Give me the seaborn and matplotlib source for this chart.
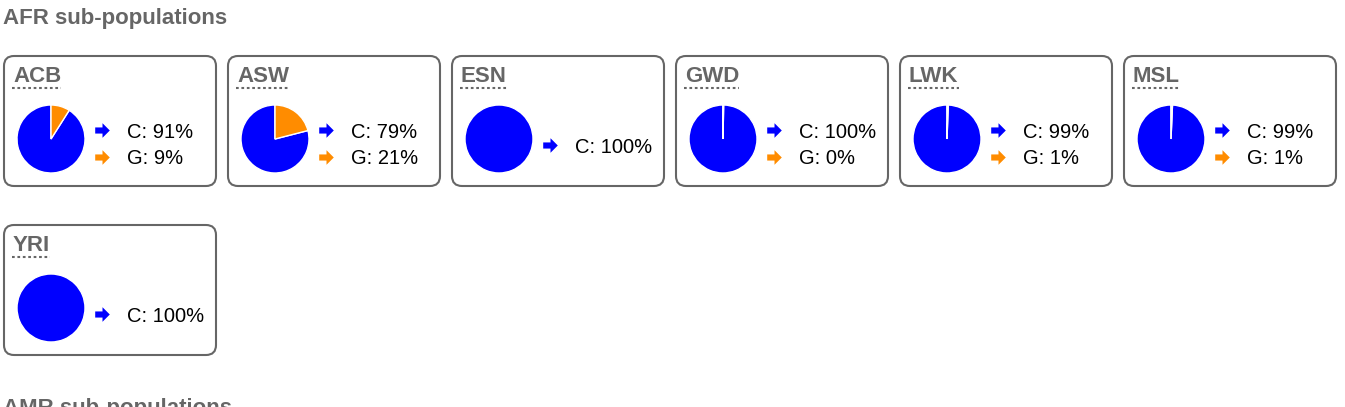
import matplotlib
matplotlib.use("Agg")
import matplotlib.pyplot as plt
from matplotlib.patches import FancyBboxPatch
from matplotlib.path import Path
import seaborn as sns

# data
populations = ["ACB", "ASW", "ESN", "GWD", "LWK", "MSL", "YRI"]
c_pct = [91.0, 79.0, 100.0, 99.7, 99.4, 99.3, 100.0]
g_pct = [9.0, 21.0, None, 0.3, 0.6, 0.7, None]
alleles = ["C", "G"]
section_title = "AFR sub-populations"
next_title = "AMR sub-populations"

sns.set_theme(style="white")
plt.rcParams['font.family'] = ['Liberation Sans', 'DejaVu Sans']
colors = sns.color_palette(["#0000ff", "#ff8c00"])
gray = "#666666"

W, H = 1345, 407
fig = plt.figure(figsize=(W / 100, H / 100), dpi=100)
fig.patch.set_facecolor("white")
ax = fig.add_axes([0, 0, 1, 1])
ax.set_xlim(0, W)
ax.set_ylim(H, 0)
ax.axis("off")

# arrow marker shape
arrow = Path([(-1, -0.42), (0.0, -0.42), (0.0, -1), (1, 0), (0.0, 1),
              (0.0, 0.42), (-1, 0.42), (-1, -0.42)],
             [Path.MOVETO] + [Path.LINETO] * 6 + [Path.CLOSEPOLY])

ax.text(3, 24, section_title, fontsize=16, fontweight="bold", color=gray, va="baseline")
ax.text(3, 414, next_title, fontsize=16, fontweight="bold", color=gray, va="baseline",
        clip_on=False)

labels = []
for i, pop in enumerate(populations):
    bx = 4 + (i % 6) * 224
    by = 56 + (i // 6) * 169
    ax.add_patch(FancyBboxPatch((bx, by), 212, 130,
                                boxstyle="round,pad=0,rounding_size=10",
                                fc="white", ec=gray, lw=1.5))
    lab = ax.text(bx + 9, by + 26, pop, fontsize=16, fontweight="bold",
                  color=gray, va="baseline")
    labels.append((lab, by))

    # pie
    cx, cy, r = bx + 47, by + 83, 34
    pax = fig.add_axes([(cx - r) / W, 1 - (cy + r) / H, 2 * r / W, 2 * r / H])
    vals = [c_pct[i]] if g_pct[i] is None else [c_pct[i], g_pct[i]]
    pax.pie(vals, colors=colors[:len(vals)], startangle=90, counterclock=True,
            wedgeprops=dict(edgecolor="white", linewidth=1))
    pax.set_xlim(-1, 1)
    pax.set_ylim(-1, 1)
    pax.set_aspect("equal")
    pax.axis("off")

    # legend rows
    if g_pct[i] is None:
        rows = [(alleles[0], c_pct[i], colors[0], by + 89, by + 97)]
    else:
        rows = [(alleles[0], c_pct[i], colors[0], by + 74, by + 82),
                (alleles[1], g_pct[i], colors[1], by + 101, by + 108)]
    for allele, pct, col, ay, ty in rows:
        ax.plot(bx + 98, ay, marker=arrow, markersize=10.5, color=col, mec=col, mew=0)
        ax.text(bx + 123, ty, f"{allele}: {round(pct)}%", fontsize=14.5,
                color="black", va="baseline")

# dotted underline under each label
fig.canvas.draw()
inv = ax.transData.inverted()
for lab, by in labels:
    bb = lab.get_window_extent()
    (x0, _), (x1, _) = inv.transform([(bb.x0, 0), (bb.x1, 0)])
    ax.plot([x0 - 1, x1], [by + 32, by + 32], color=gray, lw=1.5,
            ls=(0, (1.3, 1.3)), solid_capstyle="butt")

fig.savefig("out.png", dpi=100, facecolor="white")
